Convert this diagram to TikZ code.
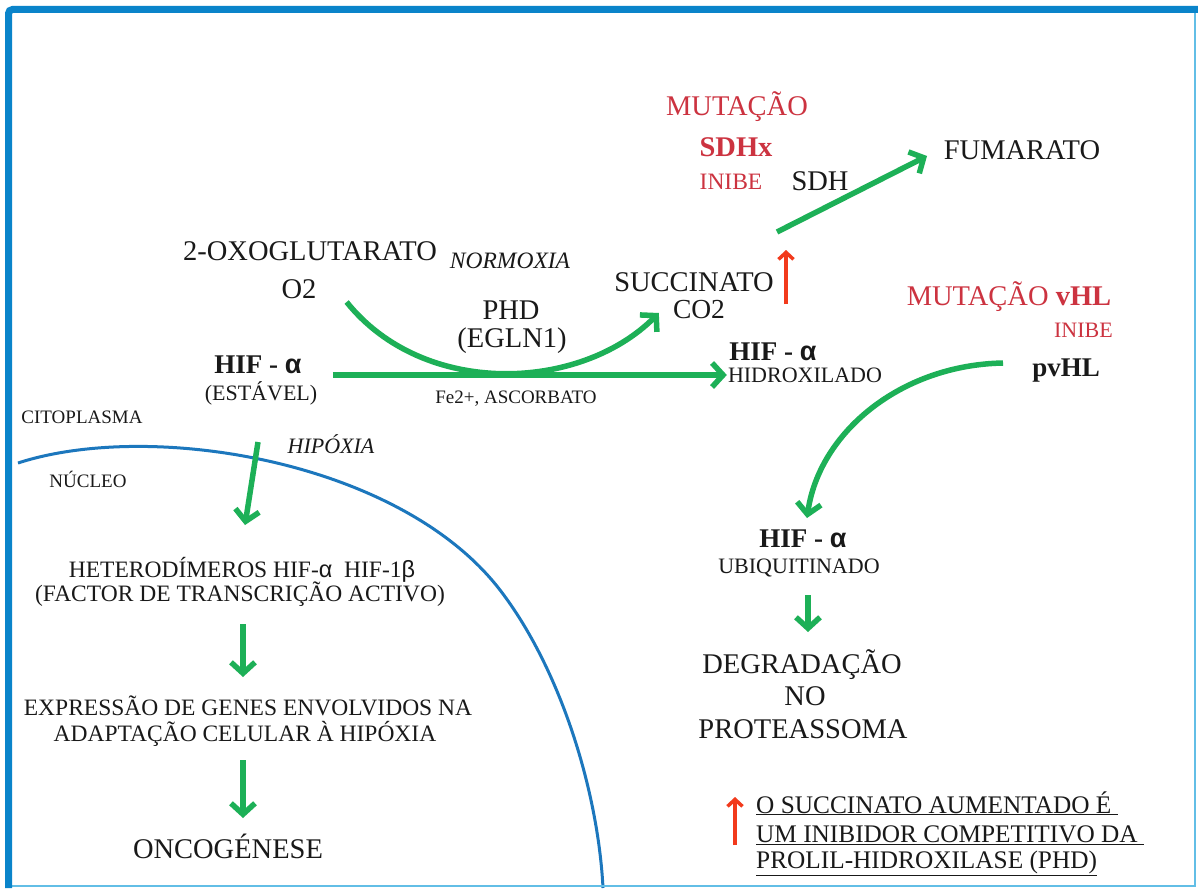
\documentclass[tikz,border=0pt]{standalone}
\usepackage{fontspec}
\setmainfont{Liberation Serif}
\newfontfamily\grk{Liberation Sans}
\usetikzlibrary{arrows.meta}
\definecolor{frameblue}{HTML}{0A84CA}
\definecolor{edgeblue}{HTML}{62BEE6}
\definecolor{nucblue}{HTML}{1C77BD}
\definecolor{hifgreen}{HTML}{1DB057}
\definecolor{mutred}{HTML}{CC3340}
\definecolor{risered}{HTML}{F23A1C}

\begin{document}
\begin{tikzpicture}[x=1pt,y=-1pt,
  every node/.style={inner sep=0pt,text=black!90},
  bigtxt/.style={font=\fontsize{28.5}{34}\selectfont},
  hiftxt/.style={font=\fontsize{27}{32}\selectfont\bfseries},
  midtxt/.style={font=\fontsize{23.5}{28}\selectfont},
  smalltxt/.style={font=\fontsize{22}{26}\selectfont},
  tinytxt/.style={font=\fontsize{19}{23}\selectfont},
  notetxt/.style={font=\fontsize{25.3}{30}\selectfont},
  mut/.style={text=mutred},
  flow/.style={draw=hifgreen,line width=5.5pt,-{Straight Barb[length=11pt,width=24pt]}},
  rise/.style={draw=risered,line width=3.5pt,-{Straight Barb[length=7pt,width=15pt]}}]
\useasboundingbox (0,0) rectangle (1198,888);
\fill[white] (0,0) rectangle (1198,888);

% Nucleus membrane
\draw[nucblue,line width=3pt] (18,463) .. controls (150,420) and (400,460) .. (500,590)
  .. controls (560,668) and (598,790) .. (603,888);

% Succinate branch
\node[bigtxt,mut,anchor=base] (mut1) at (737,116) {MUTAÇÃO};
\node[bigtxt,mut,anchor=base] (sdhx) at (736,156) {\bfseries SDHx};
\node[midtxt,mut,anchor=base] (inibe1) at (731,189) {INIBE};
\node[bigtxt,anchor=base] (sdh) at (820,190) {SDH};
\node[bigtxt,anchor=base] (fum) at (1022,159) {FUMARATO};
\node[bigtxt,anchor=base] (succ) at (694,291) {SUCCINATO};
\node[bigtxt,anchor=base,font=\fontsize{27.5}{32}\selectfont] (co2) at (699,318) {CO2};

% PHD reaction
\node[bigtxt,anchor=base] (oxo) at (310,260) {2-OXOGLUTARATO};
\node[midtxt,anchor=base] (normo) at (510,268) {\itshape NORMOXIA};
\node[bigtxt,anchor=base] (o2) at (299,298) {O2};
\node[bigtxt,anchor=base] (phd) at (511,319) {PHD};
\node[bigtxt,anchor=base] (egln) at (512,347) {(EGLN1)};
\node[hiftxt,anchor=base] (hifs) at (258,373) {HIF - {\grk α}};
\node[smalltxt,anchor=base] (estavel) at (261,400) {(ESTÁVEL)};
\node[tinytxt,anchor=base] (fe) at (516,403) {Fe2+, ASCORBATO};
\node[hiftxt,anchor=base] (hifh) at (773,360) {HIF - {\grk α}};
\node[smalltxt,anchor=base] (hidrox) at (805,382) {HIDROXILADO};

% vHL branch
\node[bigtxt,mut,anchor=base] (mut2) at (1009,305) {MUTAÇÃO \textbf{vHL}};
\node[smalltxt,mut,anchor=base east] (inibe2) at (1113,337) {INIBE};
\node[hiftxt,anchor=base] (pvhl) at (1066,376) {pvHL};
\node[hiftxt,anchor=base] (hifu) at (803,547) {HIF - {\grk α}};
\node[smalltxt,anchor=base] (ubiq) at (799,573) {UBIQUITINADO};
\node[bigtxt,anchor=base] (degr) at (802,673) {DEGRADAÇÃO};
\node[bigtxt,anchor=base] (no) at (805,705) {NO};
\node[bigtxt,anchor=base] (prot) at (803,738) {PROTEASSOMA};

% Nucleus side
\node[tinytxt,anchor=base] (cito) at (82,423) {CITOPLASMA};
\node[smalltxt,anchor=base] (hipox) at (331,453) {\itshape HIPÓXIA};
\node[tinytxt,anchor=base] (nucleo) at (88,487) {NÚCLEO};
\node[midtxt,anchor=base] (hetero) at (242,577) {HETERODÍMEROS HIF-{\grk α}\ \ HIF-1{\grk β}};
\node[midtxt,anchor=base] (factor) at (240,601) {(FACTOR DE TRANSCRIÇÃO ACTIVO)};
\node[midtxt,anchor=base] (expr1) at (248,715) {EXPRESSÃO DE GENES ENVOLVIDOS NA};
\node[midtxt,anchor=base] (expr2) at (245,741) {ADAPTAÇÃO CELULAR À HIPÓXIA};
\node[bigtxt,anchor=base] (onco) at (228,858) {ONCOGÉNESE};

% Note
\node[notetxt,anchor=base west] (note1) at (756,813) {\underline{O SUCCINATO AUMENTADO É\ }};
\node[notetxt,anchor=base west] (note2) at (756,842) {\underline{UM INIBIDOR COMPETITIVO DA\ }};
\node[notetxt,anchor=base west] (note3) at (756,868) {\underline{PROLIL-HIDROXILASE (PHD)}};

% Green arrows
\draw[flow] ([xshift=30pt,yshift=-4pt]o2.base east) .. controls +(77,96) and +(-79,79) .. ([xshift=-14pt,yshift=5pt]co2.base west);
\draw[flow] ([xshift=31pt,yshift=-2pt]hifs.base east) -- ([xshift=-1pt,yshift=7pt]hidrox.base west);
\draw[flow] ([xshift=83pt,yshift=59pt]succ.base) -- ([xshift=-95pt,yshift=3pt]fum.base);
\draw[flow] ([xshift=-63pt,yshift=13pt]pvhl.base) .. controls +(-103,2) and +(12,-85) .. ([xshift=4pt,yshift=29pt]hifu.base);
\draw[flow] ([xshift=9pt,yshift=-22pt]ubiq.base) -- ([xshift=6pt,yshift=41pt]degr.base);
\draw[flow] ([xshift=-3pt,yshift=-42pt]estavel.base) -- ([xshift=3pt,yshift=52pt]hetero.base);
\draw[flow] ([xshift=3pt,yshift=-23pt]factor.base) -- ([xshift=-5pt,yshift=38pt]expr1.base);
\draw[flow] ([xshift=-2pt,yshift=-19pt]expr2.base) -- ([xshift=15pt,yshift=40pt]onco.base);

% Red arrows
\draw[rise] ([xshift=92pt,yshift=-13pt]succ.base) -- ++(0,-54);
\draw[rise] ([xshift=-21pt,yshift=-3pt]note2.base west) -- ([xshift=-21pt,yshift=16pt]note1.base west);

% Frame
\draw[edgeblue,line width=1.5pt] (12,886) -- (1195,886) -- (1195,13);
\draw[frameblue,line width=7pt,rounded corners=4pt] (8.5,888) -- (8.5,9.5) -- (1198,9.5);
\end{tikzpicture}
\end{document}
